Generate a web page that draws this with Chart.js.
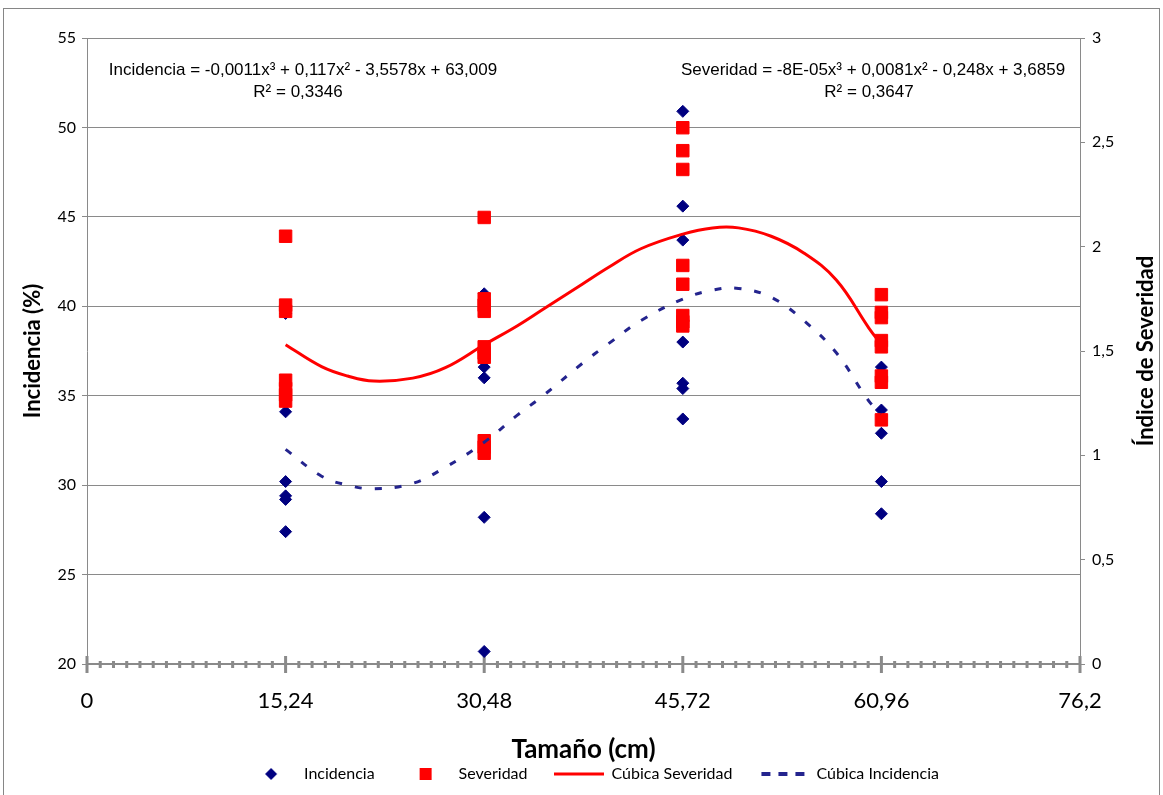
<!DOCTYPE html>
<html>
<head>
<meta charset="utf-8">
<script src="https://cdn.jsdelivr.net/npm/chart.js@4/dist/chart.umd.min.js"></script>
<style>
  html, body { margin: 0; padding: 0; background: #fff; }
  #wrap { position: relative; width: 1163px; height: 795px; overflow: hidden; }
  #marco { position: absolute; left: 3px; top: 8px; width: 1155px; height: 800px; border: 1px solid #868686; border-bottom: none; }
  #grafico { position: absolute; left: 0; top: 0; }
</style>
</head>
<body>
<div id="wrap">
  <div id="marco"></div>
  <canvas id="grafico" width="1163" height="795"></canvas>
</div>
<script>
// Tamaños de la muestra (cm)
const tamanos = [15.24, 30.48, 45.72, 60.96];
const xTicks = [0, 15.24, 30.48, 45.72, 60.96, 76.2];

// Incidencia (%) por tamaño
const incidencia = [
  [39.6, 34.1, 30.2, 29.4, 29.2, 27.4],
  [40.7, 36.6, 36.0, 31.8, 28.2, 20.7],
  [50.9, 45.6, 43.7, 38.0, 35.7, 35.4, 33.7],
  [36.6, 34.2, 32.9, 30.2, 28.4]
];

// Índice de severidad por tamaño
const severidad = [
  [2.05, 1.72, 1.69, 1.36, 1.32, 1.29, 1.26],
  [2.14, 1.75, 1.72, 1.69, 1.52, 1.49, 1.47, 1.07, 1.04, 1.01],
  [2.57, 2.46, 2.37, 1.91, 1.82, 1.67, 1.64, 1.62],
  [1.77, 1.685, 1.66, 1.55, 1.52, 1.38, 1.35, 1.17]
];

// Curvas cúbicas
const curvaX = [15.24, 18, 20, 22, 25, 27.5, 30.48, 33, 35, 38, 40, 42.5, 45.72, 48, 50, 52.5, 55, 57.5, 60, 60.96];
const curvaSeveridad = [1.53, 1.425, 1.38, 1.356, 1.37, 1.42, 1.53, 1.62, 1.70, 1.82, 1.90, 1.99, 2.06, 2.09, 2.09, 2.05, 1.97, 1.84, 1.61, 1.53];
const curvaIncidencia = [32.0, 30.5, 30.0, 29.8, 30.1, 31.0, 32.4, 33.9, 35.0, 36.8, 37.9, 39.2, 40.4, 40.9, 41.0, 40.5, 39.2, 37.4, 34.7, 34.0];

const ecuacionInc = ['Incidencia = -0,0011x³ + 0,117x² - 3,5578x + 63,009', 'R² = 0,3346'];
const ecuacionSev = ['Severidad = -8E-05x³ + 0,0081x² - 0,248x + 3,6859', 'R² = 0,3647'];

const AZUL = '#000080';
const ROJO = '#ff0000';
const AZUL_LINEA = '#24248e';
const GRIS = '#8a8a8a';

Chart.defaults.font.family = 'Lato, "DejaVu Sans", sans-serif';
Chart.defaults.color = '#000';

function aPuntos(grupos) {
  return grupos.flatMap((vals, i) => vals.map(v => ({ x: tamanos[i], y: v })));
}

function coma(v) {
  return String(v).replace('.', ',');
}

// iconos de la leyenda (50 x 16)
function icono(tipo) {
  const c = document.createElement('canvas');
  c.width = 50; c.height = 16;
  const g = c.getContext('2d');
  if (tipo === 'rombo') {
    g.fillStyle = AZUL;
    g.beginPath();
    g.moveTo(25, 2); g.lineTo(31, 8); g.lineTo(25, 14); g.lineTo(19, 8);
    g.closePath(); g.fill();
  } else if (tipo === 'cuadro') {
    g.fillStyle = ROJO;
    g.fillRect(19, 2, 12, 12);
  } else if (tipo === 'linea') {
    g.fillStyle = ROJO;
    g.fillRect(0, 6.5, 50, 3);
  } else {
    g.fillStyle = AZUL_LINEA;
    [3, 20, 37].forEach(x => g.fillRect(x, 6, 9, 4));
  }
  return c;
}

const leyenda = [
  { text: 'Incidencia', icon: icono('rombo') },
  { text: 'Severidad', icon: icono('cuadro') },
  { text: 'Cúbica Severidad', icon: icono('linea') },
  { text: 'Cúbica Incidencia', icon: icono('punteada') }
];

// marcas menores del eje X y textos
const extras = {
  id: 'extras',
  afterLayout(chart) {
    // la leyenda original está algo desplazada a la derecha
    chart.legend.left += 11;
    chart.legend.right += 11;
  },
  beforeDatasetsDraw(chart) {
    const { ctx, scales: { x } } = chart;
    const y0 = chart.chartArea.bottom;
    ctx.save();
    ctx.fillStyle = GRIS;
    for (let i = 0; i <= 75; i++) {
      const px = x.getPixelForValue(i * 1.016);
      if (i % 15 === 0) ctx.fillRect(px - 1.5, y0 - 8, 3, 17);
      else ctx.fillRect(px - 1.5, y0 - 3, 3, 7);
    }
    ctx.restore();
  },
  afterDraw(chart) {
    const { ctx, chartArea: a } = chart;
    ctx.save();
    ctx.fillStyle = '#000';
    ctx.textAlign = 'center';
    ctx.textBaseline = 'alphabetic';
    ctx.font = '17px "Liberation Sans", Arial, sans-serif';
    ctx.fillText(ecuacionInc[0], a.left + 216, a.top + 37);
    ctx.fillText(ecuacionInc[1], a.left + 211, a.top + 59);
    ctx.fillText(ecuacionSev[0], a.right - 207, a.top + 37);
    ctx.fillText(ecuacionSev[1], a.right - 211, a.top + 59);
    // título del eje derecho
    ctx.font = 'bold 22px Lato, sans-serif';
    ctx.textBaseline = 'middle';
    ctx.translate(a.right + 66, (a.top + a.bottom) / 2);
    ctx.rotate(-Math.PI / 2);
    ctx.fillText('Índice de Severidad', 0, 0);
    ctx.restore();
  }
};

const ctx = document.getElementById('grafico').getContext('2d');
new Chart(ctx, {
  type: 'scatter',
  data: {
    datasets: [
      {
        label: 'Incidencia',
        data: aPuntos(incidencia),
        yAxisID: 'y',
        pointStyle: 'rectRot',
        pointRadius: 6,
        pointHoverRadius: 6,
        backgroundColor: AZUL,
        borderColor: AZUL,
        borderWidth: 1,
        order: 4
      },
      {
        label: 'Severidad',
        data: aPuntos(severidad),
        yAxisID: 'y1',
        pointStyle: 'rect',
        pointRadius: 8.8,
        pointHoverRadius: 8.8,
        backgroundColor: ROJO,
        borderColor: ROJO,
        borderWidth: 1,
        order: 3
      },
      {
        label: 'Cúbica Severidad',
        data: curvaX.map((x, i) => ({ x, y: curvaSeveridad[i] })),
        yAxisID: 'y1',
        showLine: true,
        tension: 0.4,
        pointRadius: 0,
        borderColor: ROJO,
        borderWidth: 3,
        order: 2
      },
      {
        label: 'Cúbica Incidencia',
        data: curvaX.map((x, i) => ({ x, y: curvaIncidencia[i] })),
        yAxisID: 'y',
        showLine: true,
        tension: 0.4,
        pointRadius: 0,
        borderColor: AZUL_LINEA,
        borderWidth: 3,
        borderDash: [7, 13],
        order: 1
      }
    ]
  },
  options: {
    responsive: false,
    animation: false,
    layout: { padding: { top: 38, bottom: 3, left: 0, right: 0 } },
    plugins: {
      tooltip: { enabled: false },
      legend: {
        position: 'bottom',
        labels: {
          usePointStyle: true,
          pointStyleWidth: 50,
          padding: 26,
          font: { size: 16 },
          color: '#000',
          generateLabels: () => leyenda.map((l, i) => ({
            text: l.text,
            pointStyle: l.icon,
            datasetIndex: i,
            lineWidth: 0,
            hidden: false
          }))
        }
      }
    },
    scales: {
      x: {
        type: 'linear',
        min: 0,
        max: 76.2,
        afterBuildTicks: (s) => { s.ticks = xTicks.map(v => ({ value: v })); },
        afterFit: (s) => { s.height = 76; },
        ticks: {
          autoSkip: false,
          maxRotation: 0,
          padding: 24,
          font: { size: 22 },
          callback: (v) => coma(v)
        },
        grid: { display: true, drawOnChartArea: false, drawTicks: false },
        border: { display: true, color: GRIS, width: 2 },
        title: {
          display: true,
          text: 'Tamaño (cm)',
          font: { size: 26, weight: 'bold', lineHeight: 1 },
          padding: { top: 0, bottom: -23 }
        }
      },
      y: {
        position: 'left',
        min: 20,
        max: 55,
        afterFit: (s) => { s.width = 87; },
        ticks: { stepSize: 5, padding: 6, font: { size: 16 } },
        grid: { color: GRIS, tickLength: 5, tickColor: GRIS },
        border: { display: true, color: GRIS, width: 1 },
        title: {
          display: true,
          text: 'Incidencia (%)',
          font: { size: 22, weight: 'bold' },
          padding: { top: 20, bottom: 0 }
        }
      },
      y1: {
        position: 'right',
        min: 0,
        max: 3,
        afterFit: (s) => { s.width = 83; },
        ticks: { stepSize: 0.5, padding: 7, font: { size: 16 }, callback: (v) => coma(v) },
        grid: { drawOnChartArea: false, tickLength: 5, tickColor: GRIS },
        border: { display: true, color: GRIS, width: 1 }
      }
    }
  },
  plugins: [extras]
});
</script>
</body>
</html>
